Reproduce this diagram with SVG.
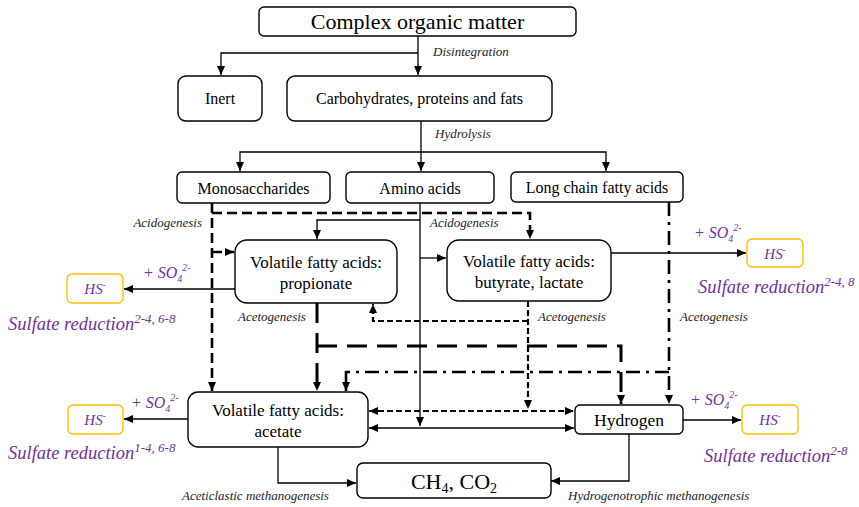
<svg xmlns="http://www.w3.org/2000/svg" width="859" height="507" viewBox="0 0 859 507">
<style>
.box{fill:#fff;stroke:#000;stroke-width:1.4}
.hs{fill:#fff;stroke:#FFC000;stroke-width:1.4}
text{font-family:'Liberation Serif','Times New Roman','DejaVu Serif',serif}
.t{fill:#000;text-anchor:middle}
.lab{font-style:italic;font-size:13px;fill:#222}
.pur{font-style:italic;fill:#7030A0}
.ln{fill:none;stroke:#000}
.solid{stroke-width:1.3}
.dash{stroke-width:2.6;stroke-dasharray:10 5}
.ldash{stroke-width:3;stroke-dasharray:20 10}
.sdash{stroke-width:2.2;stroke-dasharray:6 3}
.dd{stroke-width:2.6;stroke-dasharray:14 6 3 6}
</style>
<defs>
<marker id="a" markerUnits="userSpaceOnUse" markerWidth="9" markerHeight="8" refX="9" refY="4" orient="auto-start-reverse"><path d="M0,0 L9,4 L0,8 z" fill="#000"/></marker>
</defs>
<rect width="859" height="507" fill="#fff"/>
<g id="connectors">
<path class="ln solid" d="M418,36 V75" marker-end="url(#a)"/>
<path class="ln solid" d="M418,53 H221 V75" marker-end="url(#a)"/>
<path class="ln solid" d="M421,121 V171" marker-end="url(#a)"/>
<path class="ln solid" d="M421,152 H240 V171" marker-end="url(#a)"/>
<path class="ln solid" d="M421,152 H606 V171" marker-end="url(#a)"/>
<path class="ln solid" d="M420,203 V426" marker-end="url(#a)"/>
<path class="ln solid" d="M420,220 H317 V239" marker-end="url(#a)"/>
<path class="ln solid" d="M420,258 H446" marker-end="url(#a)"/>
<path class="ln dash" d="M212,203 V391" marker-end="url(#a)"/>
<path class="ln dash" d="M212,213 H530 V239" marker-end="url(#a)"/>
<path class="ln dash" d="M212,252 H234" marker-end="url(#a)"/>
<path class="ln solid" d="M235,289 H124" marker-end="url(#a)"/>
<path class="ln solid" d="M611,253 H746" marker-end="url(#a)"/>
<path class="ln ldash" d="M317,303 V391" marker-end="url(#a)"/>
<path class="ln ldash" d="M317,346 H621 V404" marker-end="url(#a)"/>
<path class="ln sdash" d="M528,301 V409" marker-end="url(#a)"/>
<path class="ln sdash" d="M528,321 H373 V304" marker-end="url(#a)"/>
<path class="ln dd" d="M669,202 V404" marker-end="url(#a)"/>
<path class="ln dd" d="M669,372 H346 V391" marker-end="url(#a)"/>
<path class="ln sdash" d="M369,411 H574" marker-start="url(#a)" marker-end="url(#a)"/>
<path class="ln solid" d="M369,428 H574" marker-start="url(#a)" marker-end="url(#a)"/>
<path class="ln solid" d="M188,419 H124" marker-end="url(#a)"/>
<path class="ln solid" d="M683,420 H741" marker-end="url(#a)"/>
<path class="ln solid" d="M278,447 V483 H356" marker-end="url(#a)"/>
<path class="ln solid" d="M629,434 V481 H551" marker-end="url(#a)"/>
</g>
<g id="complex"><rect class="box" x="259" y="7" width="317" height="29" rx="5"/><text class="t" x="417.5" y="29" font-size="22">Complex organic matter</text></g>
<g id="inert"><rect class="box" x="178" y="76" width="84" height="45" rx="8"/><text class="t" x="220" y="104" font-size="16">Inert</text></g>
<g id="carbo"><rect class="box" x="287" y="76" width="265" height="45" rx="8"/><text class="t" x="419.5" y="104" font-size="16">Carbohydrates, proteins and fats</text></g>
<g id="mono"><rect class="box" x="177" y="172" width="153" height="31" rx="5"/><text class="t" x="253.5" y="193.5" font-size="16">Monosaccharides</text></g>
<g id="amino"><rect class="box" x="346" y="172" width="148" height="31" rx="5"/><text class="t" x="420" y="193.5" font-size="16">Amino acids</text></g>
<g id="lcfa"><rect class="box" x="511" y="172" width="172" height="30" rx="5"/><text class="t" x="597" y="193" font-size="16">Long chain fatty acids</text></g>
<g id="propionate"><rect class="box" x="235" y="240" width="162" height="63" rx="12"/><text class="t" x="316" y="268" font-size="17">Volatile fatty acids:</text><text class="t" x="316" y="289" font-size="17">propionate</text></g>
<g id="butyrate"><rect class="box" x="447" y="240" width="164" height="61" rx="12"/><text class="t" x="529" y="267" font-size="17">Volatile fatty acids:</text><text class="t" x="529" y="288" font-size="17">butyrate, lactate</text></g>
<g id="acetate"><rect class="box" x="188" y="392" width="180" height="55" rx="10"/><text class="t" x="278" y="416" font-size="17">Volatile fatty acids:</text><text class="t" x="278" y="437" font-size="17">acetate</text></g>
<g id="hydrogen"><rect class="box" x="575" y="405" width="108" height="29" rx="5"/><text class="t" x="629" y="426" font-size="17.5">Hydrogen</text></g>
<g id="ch4"><rect class="box" x="357" y="463" width="194" height="35" rx="6"/><text class="t" x="454" y="489" font-size="22">CH<tspan font-size="14" dy="4">4</tspan><tspan dy="-4">, CO</tspan><tspan font-size="14" dy="4">2</tspan></text></g>
<g id="hs1"><rect class="hs" x="67" y="274" width="56" height="29" rx="5"/><text class="pur" x="95" y="294" font-size="15" text-anchor="middle">HS<tspan font-size="9" dy="-6">-</tspan></text></g>
<g id="hs2"><rect class="hs" x="747" y="239" width="56" height="28" rx="5"/><text class="pur" x="775" y="259" font-size="15" text-anchor="middle">HS<tspan font-size="9" dy="-6">-</tspan></text></g>
<g id="hs3"><rect class="hs" x="68" y="405" width="55" height="29" rx="5"/><text class="pur" x="95" y="425" font-size="15" text-anchor="middle">HS<tspan font-size="9" dy="-6">-</tspan></text></g>
<g id="hs4"><rect class="hs" x="742" y="405" width="56" height="29" rx="5"/><text class="pur" x="770" y="425" font-size="15" text-anchor="middle">HS<tspan font-size="9" dy="-6">-</tspan></text></g>
<g id="labels">
<text class="lab" x="433" y="56">Disintegration</text>
<text class="lab" x="435" y="138">Hydrolysis</text>
<text class="lab" x="202" y="227" text-anchor="end">Acidogenesis</text>
<text class="lab" x="430" y="227">Acidogenesis</text>
<text class="lab" x="238" y="321">Acetogenesis</text>
<text class="lab" x="538" y="321">Acetogenesis</text>
<text class="lab" x="680" y="321">Acetogenesis</text>
<text class="lab" x="182" y="500">Aceticlastic methanogenesis</text>
<text class="lab" x="568" y="500">Hydrogenotrophic methanogenesis</text>
<text class="pur" x="143" y="278" font-size="16">+ SO<tspan font-size="10" dy="4">4</tspan><tspan font-size="10" dy="-11">2-</tspan></text>
<text class="pur" x="694" y="238" font-size="16">+ SO<tspan font-size="10" dy="4">4</tspan><tspan font-size="10" dy="-11">2-</tspan></text>
<text class="pur" x="131" y="408" font-size="16">+ SO<tspan font-size="10" dy="4">4</tspan><tspan font-size="10" dy="-11">2-</tspan></text>
<text class="pur" x="690" y="405" font-size="16">+ SO<tspan font-size="10" dy="4">4</tspan><tspan font-size="10" dy="-11">2-</tspan></text>
<text class="pur" x="8" y="330" font-size="18.5">Sulfate reduction<tspan font-size="13" dy="-7">2-4, 6-8</tspan></text>
<text class="pur" x="698" y="293" font-size="18.5">Sulfate reduction<tspan font-size="13" dy="-7">2-4, 8</tspan></text>
<text class="pur" x="8" y="459" font-size="18.5">Sulfate reduction<tspan font-size="13" dy="-7">1-4, 6-8</tspan></text>
<text class="pur" x="704" y="462" font-size="18.5">Sulfate reduction<tspan font-size="13" dy="-7">2-8</tspan></text>
</g>
</svg>
